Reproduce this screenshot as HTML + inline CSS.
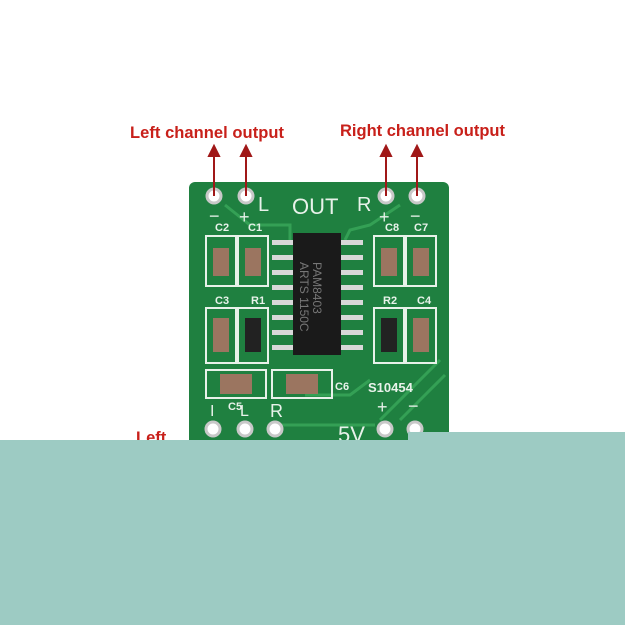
<!DOCTYPE html>
<html><head><style>body{margin:0;background:#fff}svg{display:block}</style></head><body>
<svg width="625" height="625" viewBox="0 0 625 625" xmlns="http://www.w3.org/2000/svg" font-family="Liberation Sans, sans-serif">
<rect width="625" height="625" fill="#fff"/>
<rect x="189" y="182" width="260" height="270" rx="6" fill="#1f8040"/>
<g stroke="#34a055" stroke-width="3" fill="none">
<path d="M225 205 L250 225 L290 225 L290 240"/>
<path d="M400 205 L370 225 L350 230 L345 240"/>
<path d="M305 395 L350 395 L370 380"/>
<path d="M380 420 L440 360"/>
<path d="M400 420 L445 375"/>
<path d="M275 425 L375 425"/>
</g>
<g fill="#e8f2ea" font-size="11" font-weight="bold">
<text x="215" y="231">C2</text><text x="248" y="231">C1</text>
<text x="385" y="231">C8</text><text x="414" y="231">C7</text>
<text x="215" y="304">C3</text><text x="251" y="304">R1</text>
<text x="383" y="304">R2</text><text x="417" y="304">C4</text>
<text x="228" y="410">C5</text><text x="335" y="390">C6</text>
<text x="368" y="392" font-size="13">S10454</text>
</g>
<g fill="#e8f2ea" font-size="22">
<text x="292" y="214">OUT</text><text x="258" y="211" font-size="20">L</text><text x="357" y="211" font-size="20">R</text>
<text x="338" y="442">5V</text><text x="270" y="417" font-size="18">R</text><text x="240" y="416" font-size="16">L</text><text x="210" y="416" font-size="16">I</text>
<text x="209" y="222" font-size="18">−</text><text x="239" y="223" font-size="18">+</text>
<text x="379" y="223" font-size="18">+</text><text x="410" y="222" font-size="18">−</text>
<text x="377" y="413" font-size="18">+</text><text x="408" y="412" font-size="18">−</text>
</g>
<g fill="none" stroke="#e8f2ea" stroke-width="2">
<rect x="206" y="236" width="30" height="50"/><rect x="238" y="236" width="30" height="50"/>
<rect x="374" y="236" width="30" height="50"/><rect x="406" y="236" width="30" height="50"/>
<rect x="206" y="308" width="30" height="55"/><rect x="238" y="308" width="30" height="55"/>
<rect x="374" y="308" width="30" height="55"/><rect x="406" y="308" width="30" height="55"/>
<rect x="206" y="370" width="60" height="28"/><rect x="272" y="370" width="60" height="28"/>
</g>
<g fill="#9b7560">
<rect x="213" y="248" width="16" height="28"/><rect x="245" y="248" width="16" height="28"/>
<rect x="381" y="248" width="16" height="28"/><rect x="413" y="248" width="16" height="28"/>
<rect x="213" y="318" width="16" height="34"/><rect x="413" y="318" width="16" height="34"/>
<rect x="220" y="374" width="32" height="20"/><rect x="286" y="374" width="32" height="20"/>
</g>
<rect x="245" y="318" width="16" height="34" fill="#222"/><rect x="381" y="318" width="16" height="34" fill="#222"/>
<g fill="#d8d8d8">
<rect x="272" y="240" width="24" height="5"/><rect x="272" y="255" width="24" height="5"/><rect x="272" y="270" width="24" height="5"/><rect x="272" y="285" width="24" height="5"/><rect x="272" y="300" width="24" height="5"/><rect x="272" y="315" width="24" height="5"/><rect x="272" y="330" width="24" height="5"/><rect x="272" y="345" width="24" height="5"/>
<rect x="337" y="240" width="26" height="5"/><rect x="337" y="255" width="26" height="5"/><rect x="337" y="270" width="26" height="5"/><rect x="337" y="285" width="26" height="5"/><rect x="337" y="300" width="26" height="5"/><rect x="337" y="315" width="26" height="5"/><rect x="337" y="330" width="26" height="5"/><rect x="337" y="345" width="26" height="5"/>
</g>
<rect x="293" y="233" width="48" height="122" fill="#1a1a1a"/>
<text transform="translate(313,262) rotate(90)" fill="#777" font-size="12">PAM8403</text>
<text transform="translate(300,262) rotate(90)" fill="#777" font-size="12">ARTS 1150C</text>
<g fill="#fff" stroke="#c8c8c8" stroke-width="3">
<circle cx="214" cy="196" r="7"/><circle cx="246" cy="196" r="7"/><circle cx="386" cy="196" r="7"/><circle cx="417" cy="196" r="7"/>
<circle cx="213" cy="429" r="7"/><circle cx="245" cy="429" r="7"/><circle cx="275" cy="429" r="7"/><circle cx="385" cy="429" r="7"/><circle cx="415" cy="429" r="7"/>
</g>
<g stroke="#a01818" stroke-width="2" fill="#a01818">
<line x1="214" y1="152" x2="214" y2="196"/><line x1="246" y1="152" x2="246" y2="196"/>
<line x1="386" y1="152" x2="386" y2="196"/><line x1="417" y1="152" x2="417" y2="196"/>
<path d="M209 156 L214 146 L219 156Z"/><path d="M241 156 L246 146 L251 156Z"/>
<path d="M381 156 L386 146 L391 156Z"/><path d="M412 156 L417 146 L422 156Z"/>
</g>
<g fill="#c8201a" font-size="16.5" font-weight="bold">
<text x="130" y="138" textLength="154">Left channel output</text>
<text x="340" y="136" textLength="165">Right channel output</text>
<text x="136" y="443">Left</text>
</g>
<rect x="0" y="440" width="625" height="185" fill="#9dcbc3"/>
<rect x="408" y="432" width="217" height="10" fill="#9dcbc3"/>
</svg>
</body></html>
